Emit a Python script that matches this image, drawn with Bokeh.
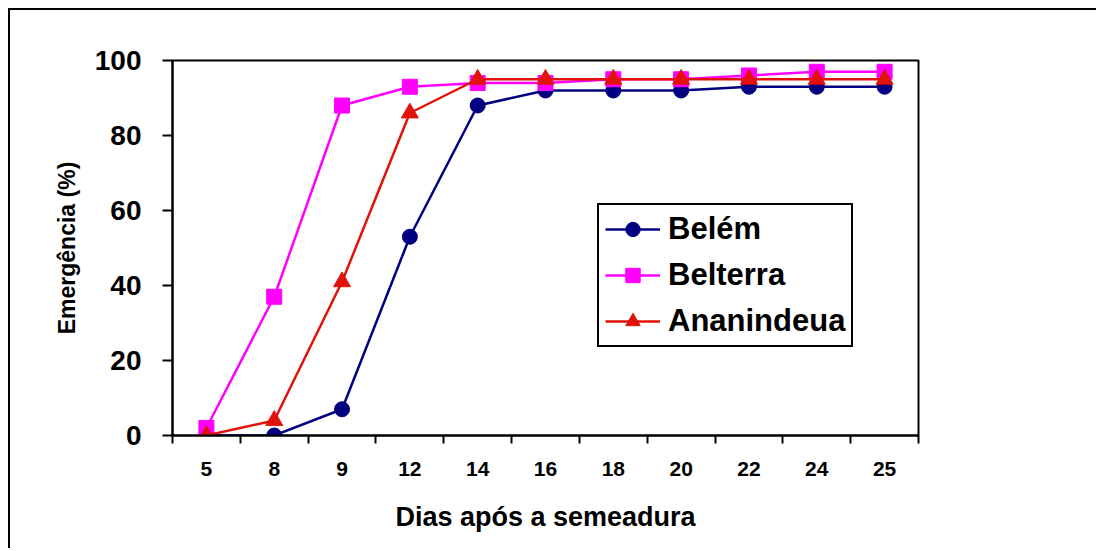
from bokeh.plotting import figure
from bokeh.models import FixedTicker, Legend, LegendItem, Range1d
from bokeh.embed import file_html
from bokeh.resources import INLINE

dias = ["5", "8", "9", "12", "14", "16", "18", "20", "22", "24", "25"]
belem = [0, 0, 7, 53, 88, 92, 92, 92, 93, 93, 93]
belterra = [2, 37, 88, 93, 94, 94, 95, 95, 96, 97, 97]
ananindeua = [0, 4, 41, 86, 95, 95, 95, 95, 95, 95, 95]
y_ticks = [0, 20, 40, 60, 80, 100]

FONT = "Liberation Sans"
xpos = [i + 0.5 for i in range(len(dias))]
bounds = list(range(len(dias) + 1))

p = figure(width=1088, height=540, output_backend="svg", toolbar_location=None,
           x_range=Range1d(0, len(dias)), y_range=Range1d(0, 100),
           min_border_left=162, min_border_right=180, min_border_top=50, min_border_bottom=115)
p.styles = {"margin-left": "8px", "margin-top": "8px",
            "border-top": "2px solid black", "border-left": "2px solid black"}
p.background_fill_color = "white"
p.border_fill_color = "white"
p.outline_line_color = "black"
p.outline_line_width = 2
p.xgrid.visible = False
p.ygrid.visible = False

# x axis: labels at category centres, ticks at boundaries
p.xaxis.ticker = FixedTicker(ticks=xpos, minor_ticks=bounds)
p.xaxis.major_label_overrides = {x: d for x, d in zip(xpos, dias)}
p.xaxis.major_tick_line_color = None
p.xaxis.minor_tick_line_color = "black"
p.xaxis.minor_tick_line_width = 2
p.xaxis.minor_tick_in = 0
p.xaxis.minor_tick_out = 8
p.xaxis.axis_line_width = 2
p.xaxis.major_label_text_font = FONT
p.xaxis.major_label_text_font_style = "bold"
p.xaxis.major_label_text_font_size = "21px"
p.xaxis.major_label_text_color = "black"
p.xaxis.major_label_standoff = 18
p.xaxis.axis_label = "Dias após a semeadura"
p.xaxis.axis_label_text_font = FONT
p.xaxis.axis_label_text_font_style = "bold"
p.xaxis.axis_label_text_font_size = "27px"
p.xaxis.axis_label_text_color = "black"
p.xaxis.axis_label_standoff = 23

p.yaxis.ticker = FixedTicker(ticks=y_ticks, minor_ticks=[])
p.yaxis.major_tick_line_width = 2
p.yaxis.major_tick_in = 0
p.yaxis.major_tick_out = 10
p.yaxis.axis_line_width = 2
p.yaxis.major_label_text_font = FONT
p.yaxis.major_label_text_font_style = "bold"
p.yaxis.major_label_text_font_size = "28px"
p.yaxis.major_label_text_color = "black"
p.yaxis.major_label_standoff = 21
p.yaxis.axis_label = "Emergência (%)"
p.yaxis.axis_label_text_font = FONT
p.yaxis.axis_label_text_font_style = "bold"
p.yaxis.axis_label_text_font_size = "23px"
p.yaxis.axis_label_text_color = "black"
p.yaxis.axis_label_standoff = 12

series = [
    ("Belém", belem, "#000080", "circle", 15),
    ("Belterra", belterra, "#FF00FF", "square", 15),
    ("Ananindeua", ananindeua, "#E0120A", "triangle", 17),
]
items = []
for name, vals, col, mk, sz in series:
    ln = p.line(xpos, vals, line_color=col, line_width=2.5)
    sc = p.scatter(xpos, vals, marker=mk, size=sz, fill_color=col, line_color=col)
    items.append(LegendItem(label=name, renderers=[ln, sc]))

legend = Legend(items=items, location=(425, 88))
legend.label_text_font = FONT
legend.label_text_font_style = "bold"
legend.label_text_font_size = "31px"
legend.label_text_color = "black"
legend.glyph_width = 55
legend.glyph_height = 36
legend.label_height = 36
legend.label_standoff = 8
legend.spacing = 10
legend.padding = 6
legend.margin = 0
legend.border_line_color = "black"
legend.border_line_alpha = 1
legend.border_line_width = 2
legend.background_fill_color = "white"
legend.background_fill_alpha = 1
p.add_layout(legend, "center")

open("out.html", "w").write(file_html(p, INLINE))
